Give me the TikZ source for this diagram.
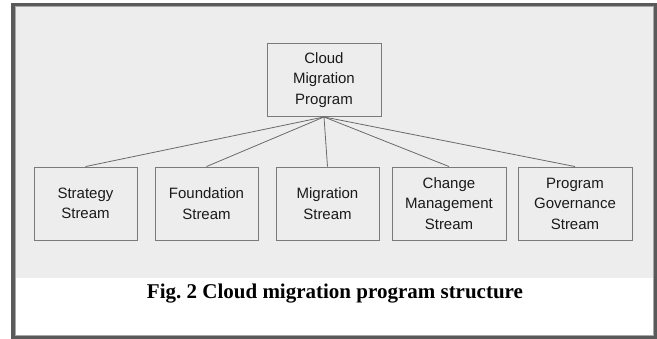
\documentclass[tikz,border=0pt]{standalone}
\usepackage{fontspec}
\setmainfont{Liberation Serif}
\newfontfamily\boxfont{Liberation Sans}
\definecolor{bgray}{HTML}{EDEDED}
\definecolor{frameout}{HTML}{5A5A5A}
\definecolor{framein}{HTML}{A8A8A8}
\definecolor{boxline}{HTML}{7A7A7A}
\definecolor{conn}{HTML}{6A6A6A}
\definecolor{boxtext}{HTML}{1A1A1A}
\tikzset{
  streambox/.style={draw=boxline, line width=0.9pt, fill=bgray, align=center,
    minimum height=73pt, inner sep=0pt, text=boxtext,
    font=\boxfont\fontsize{15}{20.5}\selectfont},
  connector/.style={draw=conn, line width=0.8pt},
}
\begin{document}
\begin{tikzpicture}[x=1pt, y=-1pt]
\useasboundingbox (0,0) rectangle (657,339);
% background panels
\fill[white] (0,0) rectangle (657,339);
\fill[bgray] (15,6) rectangle (654,278);
\fill[white] (15,278) rectangle (654,336);
\draw[framein, line width=1pt] (15.5,6.5) rectangle (653.5,335.5);
\draw[frameout, line width=3.5pt] (12.75,4.5) rectangle (655.5,337.5);
% nodes
\node[streambox, minimum width=114pt] (cmp) at (324,80) {Cloud\\Migration\\Program};
\node[streambox, minimum width=103pt] (strat) at (85.5,203.5) {Strategy\\Stream};
\node[streambox, minimum width=103pt] (found) at (206.5,203.5) {Foundation\\Stream};
\node[streambox, minimum width=103pt] (migr) at (327.5,203.5) {Migration\\Stream};
\node[streambox, minimum width=114pt] (chg) at (449,203.5) {Change\\Management\\Stream};
\node[streambox, minimum width=114pt] (gov) at (575,203.5) {Program\\Governance\\Stream};
% connectors
\foreach \n in {strat,found,migr,chg,gov}
  \draw[connector] (cmp.south) -- (\n.north);
% caption
\node[font=\bfseries\fontsize{21}{24}\selectfont, anchor=base] (cap) at (335,299) {Fig.\ 2 Cloud migration program structure};
\end{tikzpicture}
\end{document}
